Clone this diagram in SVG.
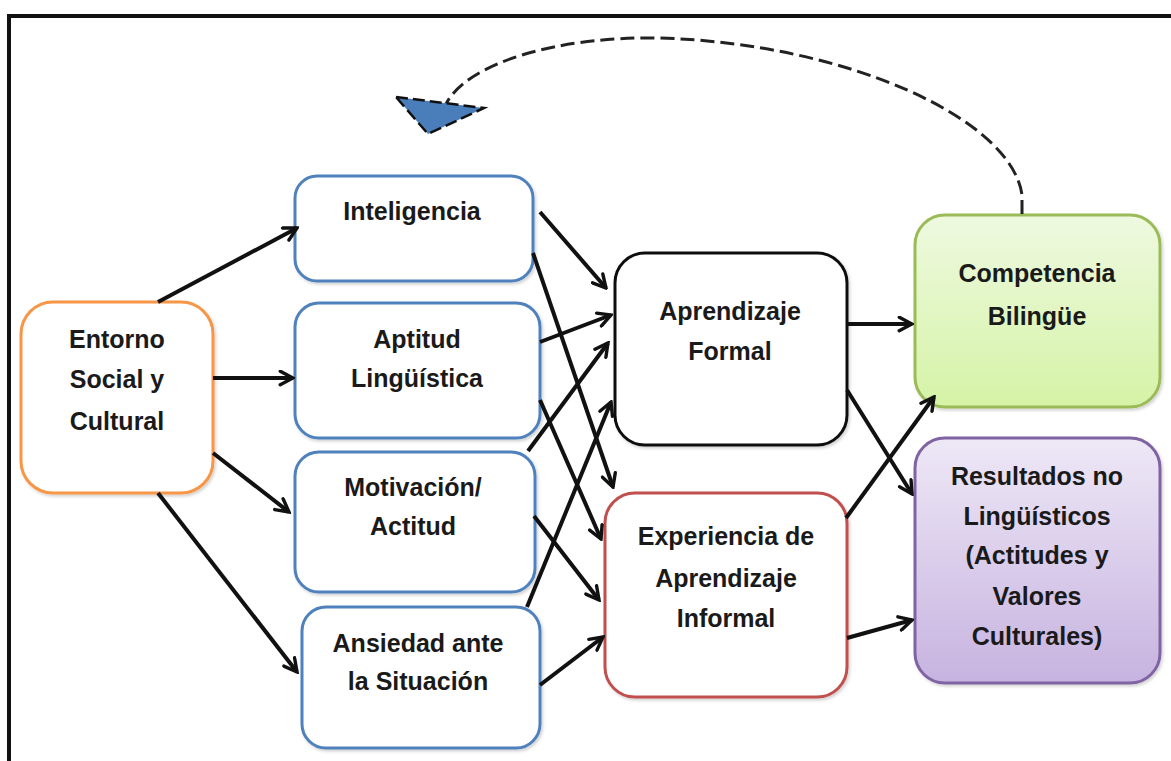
<svg xmlns="http://www.w3.org/2000/svg" width="1171" height="761" viewBox="0 0 1171 761">
  <defs>
    <linearGradient id="gGreen" x1="0" y1="0" x2="0" y2="1">
      <stop offset="0" stop-color="#EEF9E0"/>
      <stop offset="1" stop-color="#D5F3A6"/>
    </linearGradient>
    <linearGradient id="gPurple" x1="0" y1="0" x2="0" y2="1">
      <stop offset="0" stop-color="#EEE8F6"/>
      <stop offset="1" stop-color="#C7B3E0"/>
    </linearGradient>
    <marker id="arr" viewBox="0 0 12 12" refX="10.5" refY="6" markerWidth="17" markerHeight="17" markerUnits="userSpaceOnUse" orient="auto">
      <path d="M1.5,1.2 L10.5,6 L1.5,10.8" fill="none" stroke="#111" stroke-width="2.4" stroke-linecap="round" stroke-linejoin="miter"/>
    </marker>
    <filter id="sh" x="-10%" y="-10%" width="125%" height="125%">
      <feDropShadow dx="1.5" dy="2" stdDeviation="1.5" flood-color="#000" flood-opacity="0.18"/>
    </filter>
  </defs>
  <style>
    .box { stroke-width: 3; filter: url(#sh); }
    .lbl { font-family: "Liberation Sans", Arial, sans-serif; font-weight: bold; font-size: 25px; fill: #1a1a1a; text-anchor: middle; }
    .con { stroke: #111; stroke-width: 4; fill: none; marker-end: url(#arr); }
  </style>
  <rect x="0" y="0" width="1171" height="761" fill="#ffffff"/>
  <path d="M9,761 L9,16 L1171,16" fill="none" stroke="#111" stroke-width="4"/>

  <g id="entorno">
    <rect class="box" x="21" y="302" width="192" height="191" rx="32" fill="#fff" stroke="#F79646"/>
    <text class="lbl" x="117" y="348">Entorno</text>
    <text class="lbl" x="117" y="388">Social y</text>
    <text class="lbl" x="117" y="430">Cultural</text>
  </g>
  <g id="inteligencia">
    <rect class="box" x="295" y="176" width="238" height="105" rx="22" fill="#fff" stroke="#4F81BD"/>
    <text class="lbl" x="412" y="220">Inteligencia</text>
  </g>
  <g id="aptitud">
    <rect class="box" x="295" y="303" width="245" height="135" rx="24" fill="#fff" stroke="#4F81BD"/>
    <text class="lbl" x="417" y="348">Aptitud</text>
    <text class="lbl" x="417" y="387">Lingüística</text>
  </g>
  <g id="motivacion">
    <rect class="box" x="295" y="452" width="240" height="140" rx="24" fill="#fff" stroke="#4F81BD"/>
    <text class="lbl" x="413" y="496">Motivación/</text>
    <text class="lbl" x="413" y="535">Actitud</text>
  </g>
  <g id="ansiedad">
    <rect class="box" x="302" y="607" width="238" height="141" rx="24" fill="#fff" stroke="#4F81BD"/>
    <text class="lbl" x="418" y="652">Ansiedad ante</text>
    <text class="lbl" x="418" y="690">la Situación</text>
  </g>
  <g id="formal">
    <rect class="box" x="615" y="253" width="232" height="192" rx="30" fill="#fff" stroke="#111"/>
    <text class="lbl" x="730" y="320">Aprendizaje</text>
    <text class="lbl" x="730" y="360">Formal</text>
  </g>
  <g id="informal">
    <rect class="box" x="605" y="493" width="242" height="204" rx="30" fill="#fff" stroke="#C0504D"/>
    <text class="lbl" x="726" y="545">Experiencia de</text>
    <text class="lbl" x="726" y="587">Aprendizaje</text>
    <text class="lbl" x="726" y="627">Informal</text>
  </g>
  <g id="competencia">
    <rect class="box" x="915" y="215" width="245" height="192" rx="30" fill="url(#gGreen)" stroke="#9BBB59" stroke-width="2"/>
    <text class="lbl" x="1037" y="282">Competencia</text>
    <text class="lbl" x="1037" y="325">Bilingüe</text>
  </g>
  <g id="resultados">
    <rect class="box" x="915" y="438" width="245" height="245" rx="30" fill="url(#gPurple)" stroke="#8064A2" stroke-width="2"/>
    <text class="lbl" x="1037" y="485">Resultados no</text>
    <text class="lbl" x="1037" y="525">Lingüísticos</text>
    <text class="lbl" x="1037" y="564">(Actitudes y</text>
    <text class="lbl" x="1037" y="605">Valores</text>
    <text class="lbl" x="1037" y="645">Culturales)</text>
  </g>

  <g id="connectors">
    <line class="con" x1="158" y1="302" x2="297" y2="228"/>
    <line class="con" x1="213" y1="378" x2="293" y2="378"/>
    <line class="con" x1="213" y1="453" x2="289" y2="512"/>
    <line class="con" x1="158" y1="493" x2="297" y2="672"/>

    <line class="con" x1="540" y1="212" x2="606" y2="288"/>
    <line class="con" x1="540" y1="342" x2="611" y2="315"/>
    <line class="con" x1="528" y1="451" x2="608" y2="343"/>
    <line class="con" x1="527" y1="607" x2="611" y2="402"/>

    <line class="con" x1="533" y1="253" x2="613" y2="487"/>
    <line class="con" x1="540" y1="400" x2="601" y2="539"/>
    <line class="con" x1="534" y1="516" x2="599" y2="600"/>
    <line class="con" x1="540" y1="685" x2="603" y2="637"/>

    <line class="con" x1="847" y1="324" x2="912" y2="324"/>
    <line class="con" x1="847" y1="390" x2="912" y2="494"/>
    <line class="con" x1="846" y1="518" x2="934" y2="397"/>
    <line class="con" x1="847" y1="638" x2="912" y2="620"/>

    <path d="M1022,214 L1022,195 C1012,120 850,44 660,38 C560,36 468,62 446,104" fill="none" stroke="#222" stroke-width="3" stroke-dasharray="14,6"/>
    <polygon points="396,97 484,108 428,134" fill="#4A7EBB" stroke="#111" stroke-width="2.5" stroke-dasharray="12,5" stroke-linejoin="miter"/>
  </g>
</svg>
